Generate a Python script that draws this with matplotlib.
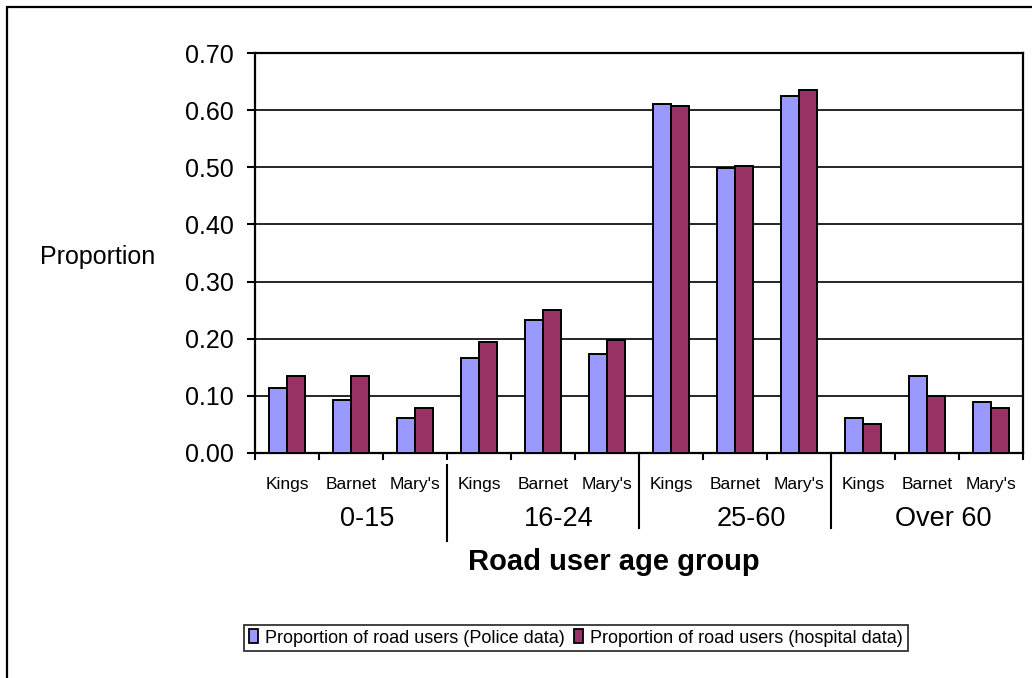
import numpy as np
import matplotlib
matplotlib.use("Agg")
import matplotlib.pyplot as plt
from matplotlib.patches import Rectangle, Patch
from matplotlib.transforms import blended_transform_factory

plt.rcParams['font.family'] = ['Liberation Sans', 'DejaVu Sans']

# Hospitals within each road user age group
hospitals = ["Kings", "Barnet", "Mary's"]
age_groups = ["0-15", "16-24", "25-60", "Over 60"]

# Proportions, ordered group by group (Kings, Barnet, Mary's)
police = [0.114, 0.093, 0.062,
          0.167, 0.233, 0.174,
          0.611, 0.499, 0.625,
          0.062, 0.135, 0.090]
hospital = [0.135, 0.135, 0.079,
            0.195, 0.251, 0.198,
            0.608, 0.503, 0.636,
            0.051, 0.100, 0.079]

series_names = ["Proportion of road users (Police data)",
                "Proportion of road users (hospital data)"]
colors = ["#9999FF", "#993366"]

W, H = 1032, 678
fig = plt.figure(figsize=(W / 100, H / 100), dpi=100)
ax = fig.add_axes([255 / W, 1 - 453 / H, 768 / W, 400 / H])

n = len(police)
x = np.arange(n)
bw = 0.28
ax.bar(x - bw / 2, police, bw, color=colors[0], edgecolor="black", linewidth=1.4, zorder=3)
ax.bar(x + bw / 2, hospital, bw, color=colors[1], edgecolor="black", linewidth=1.4, zorder=3)

ax.set_xlim(-0.5, n - 0.5)
ax.set_ylim(0, 0.70)
ax.set_yticks(np.arange(0, 0.71, 0.1))
ax.set_yticklabels([f"{v:.2f}" for v in np.arange(0, 0.71, 0.1)], fontsize=18)
ax.yaxis.grid(True, color="black", linewidth=1.2, zorder=0)
ax.set_axisbelow(True)
for s in ax.spines.values():
    s.set_linewidth(1.6)
    s.set_color("black")
ax.tick_params(axis="y", direction="out", length=6, width=1.5, pad=9)

# hospital names as tick labels, category boundaries as minor ticks
ax.set_xticks(x)
ax.set_xticklabels(hospitals * len(age_groups), fontsize=12.5)
ax.tick_params(axis="x", which="major", length=0, pad=17)
ax.set_xticks(np.arange(-0.5, n, 1.0), minor=True)
ax.tick_params(axis="x", which="minor", direction="out", length=5, width=1.5)

# age group labels and separators under the hospital names
trans = blended_transform_factory(ax.transData, ax.transAxes)
per = len(hospitals)
for i, g in enumerate(age_groups):
    cx = i * per + (per - 1) / 2
    ax.text(cx + 0.25, -66 / 400, g, transform=trans, ha="center", va="center", fontsize=19.5)
for i in range(1, len(age_groups)):
    bx = i * per - 0.5
    y0, y1 = (-12 / 400, -88 / 400) if i == 1 else (0, -75 / 400)
    ax.plot([bx, bx], [y0, y1], transform=trans, color="black", linewidth=1.5, clip_on=False)

fig.text(614 / W, 1 - 570 / H, "Road user age group", ha="center", va="baseline",
         fontsize=21, fontweight="bold")
fig.text(40 / W, 1 - 257 / H, "Proportion", ha="left", va="center", fontsize=18)

handles = [Patch(facecolor=c, edgecolor="black", linewidth=1.3) for c in colors]
leg = fig.legend(handles, series_names, loc="center", bbox_to_anchor=(576 / W, 1 - 638 / H),
                 ncol=2, fontsize=13, frameon=True, fancybox=False, shadow=False,
                 handlelength=0.5, handleheight=0.8, handletextpad=0.4, columnspacing=0.5,
                 borderpad=0.25, borderaxespad=0)
leg.get_frame().set_edgecolor("black")
leg.get_frame().set_linewidth(1.3)

# outer chart border
fig.patches.append(Rectangle((7 / W, -0.05), 1.1, (H - 7) / H + 0.05, transform=fig.transFigure,
                             fill=False, edgecolor="black", linewidth=1.6))

fig.savefig("out.png", dpi=100)
